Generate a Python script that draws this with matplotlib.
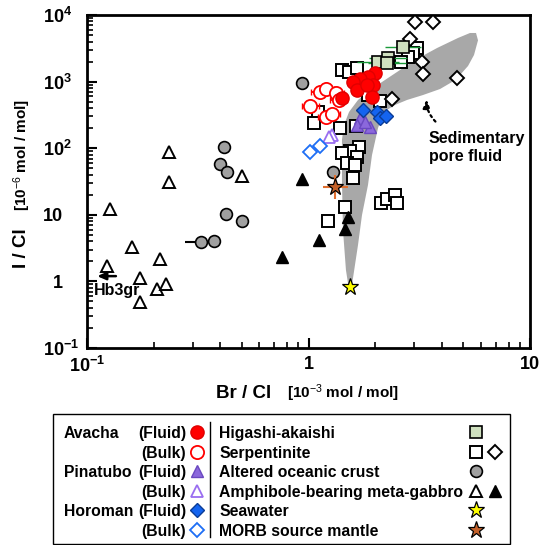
import matplotlib
matplotlib.use('Agg')
import matplotlib.pyplot as plt
from matplotlib.patches import Rectangle
from matplotlib.ticker import FixedLocator, FixedFormatter, LogLocator, NullFormatter

plt.rcParams['font.family'] = ['Liberation Sans', 'DejaVu Sans']
plt.rcParams['mathtext.fontset'] = 'custom'
plt.rcParams['mathtext.rm'] = 'Liberation Sans'
plt.rcParams['mathtext.bf'] = 'Liberation Sans:bold'
plt.rcParams['mathtext.it'] = 'Liberation Sans:italic'

# --- sedimentary pore fluid field (outline, Br/Cl vs I/Cl)
region_x = [1.524, 1.476, 1.431, 1.416, 1.416, 1.446, 1.524, 1.673, 1.895, 2.215, 2.589, 3.026,
            3.803, 4.731, 5.359, 5.705, 5.825, 5.588, 5.25, 4.83, 4.445, 3.925, 3.289, 2.785,
            2.458, 2.262, 2.147, 2.06, 1.935, 1.856, 1.744, 1.673, 1.588, 1.556]
region_y = [0.743, 1.48, 5.91, 33.3, 133, 223, 350, 530, 748, 1057, 1493, 2110,
            3190, 4520, 5370, 5370, 4170, 2510, 1715, 1257, 986, 774, 629, 530,
            446, 375, 294, 201, 79, 28, 9.93, 3.52, 1.12, 0.743]

# --- Avacha
avacha_fluid_x = [2.0, 1.86, 1.71, 1.59, 1.95, 1.66, 1.93, 1.42, 1.84]
avacha_fluid_y = [1345, 1173, 1095, 987, 890, 748, 588, 568, 890]
avacha_bulk_x = [1.13, 1.2, 1.33, 1.02, 1.37, 1.2, 1.28]
avacha_bulk_y = [698, 774, 675, 430, 530, 294, 326]
avacha_bulk_xerr = [0.1, 0.11, 0.12, 0.09, 0.12, 0.1, 0.11]

# --- Pinatubo
pinatubo_fluid_x = [1.71, 1.9, 1.66, 1.8]
pinatubo_fluid_y = [284, 208, 223, 250]
pinatubo_bulk_x = [1.28, 1.24]
pinatubo_bulk_y = [158, 145]

# --- Horoman
horoman_fluid_x = [1.76, 2.04, 2.1, 2.24]
horoman_fluid_y = [375, 350, 284, 302]
horoman_bulk_x = [1.02, 1.13]
horoman_bulk_y = [88, 108]

# --- Higashi-akaishi
higashi_x = [2.67, 2.06, 2.29, 2.26]
higashi_y = [3300, 1970, 2260, 1900]
higashi_xerr_lo = [0.45, 0.4, 0.42, 0.4]
higashi_xerr_hi = [0.55, 0.5, 0.5, 0.5]

# --- Serpentinite
serp_sq_x = [1.42, 1.52, 1.66, 3.09, 2.96, 2.81, 2.62, 2.10, 1.86, 1.10, 1.06, 1.39, 1.64,
             1.69, 1.54, 1.42, 1.66, 1.49, 1.62, 1.59, 1.46, 1.22, 2.12, 2.26, 2.46, 2.51]
serp_sq_y = [1490, 1390, 1600, 3170, 2690, 2330, 1970, 512, 630, 348, 238, 200, 215,
             104, 91, 85, 74, 60, 56, 36, 13.1, 8.1, 15, 17.3, 19.8, 15]
serp_di_x = [3.03, 3.65, 2.87, 3.25, 3.29, 4.68, 2.38]
serp_di_y = [7850, 7850, 4360, 1960, 1290, 1130, 545]

# --- Altered oceanic crust
aoc_x = [0.416, 0.40, 0.43, 0.425, 0.50, 0.327, 0.375, 0.935, 1.29]
aoc_y = [105, 57, 44, 10.2, 8.1, 3.9, 4.0, 955, 44]

# --- Amphibole-bearing meta-gabbro
gabbro_open_x = [0.127, 0.160, 0.123, 0.173, 0.173, 0.214, 0.207, 0.227, 0.234, 0.234, 0.50]
gabbro_open_y = [12.2, 3.3, 1.7, 1.12, 0.49, 2.17, 0.77, 0.91, 88, 31, 38]
gabbro_fill_x = [0.76, 0.93, 1.11, 1.46, 1.51]
gabbro_fill_y = [2.33, 34, 4.2, 6.1, 9.3]

# --- end members
seawater_x, seawater_y = [1.54], [0.83]
morb_x, morb_y = [1.32], [26]

styles = {
    'av_f': dict(marker='o', ms=9.5, mfc='#ff0000', mec='#e00000', mew=1.0),
    'av_b': dict(marker='o', ms=9.5, mfc='white', mec='#ff0000', mew=1.3),
    'pi_f': dict(marker='^', ms=9, mfc='#8b68dc', mec='#6a48c0', mew=1.0),
    'pi_b': dict(marker='^', ms=9, mfc='white', mec='#9a6ef0', mew=1.3),
    'ho_f': dict(marker='D', ms=7.5, mfc='#1464f0', mec='#0a3c96', mew=1.0),
    'ho_b': dict(marker='D', ms=7.5, mfc='white', mec='#1e6ef5', mew=1.3),
    'hi': dict(marker='s', ms=8.5, mfc='#cfe0bf', mec='black', mew=1.2),
    'sq': dict(marker='s', ms=8.5, mfc='white', mec='black', mew=1.4),
    'di': dict(marker='D', ms=7, mfc='white', mec='black', mew=1.4),
    'aoc': dict(marker='o', ms=8.5, mfc='#a0a0a0', mec='black', mew=1.2),
    'ga_o': dict(marker='^', ms=8.5, mfc='white', mec='black', mew=1.4),
    'ga_f': dict(marker='^', ms=8.5, mfc='black', mec='black', mew=1.0),
    'sw': dict(marker='*', ms=12.5, mfc='#ffff00', mec='black', mew=0.9),
    'morb': dict(marker='*', ms=12.5, mfc='#c4612a', mec='black', mew=0.9),
}

fig = plt.figure(figsize=(5.43, 5.45), dpi=100)
ax = fig.add_axes([87 / 543, 1 - 348 / 545, (530 - 87) / 543, (348 - 15) / 545])
ax.set_xscale('log')
ax.set_yscale('log')
ax.set_xlim(0.1, 10)
ax.set_ylim(0.1, 1e4)

ax.fill(region_x, region_y, color='#a8a8a8', lw=0, zorder=1)

ax.plot(serp_sq_x, serp_sq_y, ls='none', zorder=3, **styles['sq'])
ax.errorbar([1.22], [8.1], xerr=[[0.05], [0.05]], fmt='none', ecolor='black', elinewidth=1.2,
            capsize=2, zorder=2.9)
ax.plot(serp_di_x, serp_di_y, ls='none', zorder=3, **styles['di'])
ax.errorbar([0.327], [3.9], xerr=[[0.05], [0]], fmt='none', ecolor='black', elinewidth=1.5, zorder=2.9)
ax.plot(aoc_x, aoc_y, ls='none', zorder=3, **styles['aoc'])
ax.plot(gabbro_open_x, gabbro_open_y, ls='none', zorder=3, **styles['ga_o'])
ax.plot(gabbro_fill_x, gabbro_fill_y, ls='none', zorder=3, **styles['ga_f'])

ax.errorbar(higashi_x, higashi_y, xerr=[higashi_xerr_lo, higashi_xerr_hi], fmt='none',
            ecolor='#1a9a3a', elinewidth=1.0, zorder=3.5)
ax.plot(higashi_x, higashi_y, ls='none', zorder=4, **styles['hi'])

ax.errorbar(avacha_bulk_x, avacha_bulk_y, xerr=avacha_bulk_xerr, fmt='none', ecolor='#ff0000',
            elinewidth=1.3, capsize=2.5, zorder=4.5)
ax.plot(avacha_bulk_x, avacha_bulk_y, ls='none', zorder=5, **styles['av_b'])
ax.plot(avacha_fluid_x, avacha_fluid_y, ls='none', zorder=5, **styles['av_f'])
ax.plot(pinatubo_bulk_x, pinatubo_bulk_y, ls='none', zorder=5, **styles['pi_b'])
ax.plot(pinatubo_fluid_x, pinatubo_fluid_y, ls='none', zorder=5, **styles['pi_f'])
ax.plot(horoman_bulk_x, horoman_bulk_y, ls='none', zorder=5, **styles['ho_b'])
ax.plot(horoman_fluid_x, horoman_fluid_y, ls='none', zorder=5, **styles['ho_f'])

ax.errorbar(morb_x, morb_y, xerr=[[0.16], [0.18]], yerr=[[8.8], [13]], fmt='none',
            ecolor='#e07030', elinewidth=1.5, zorder=5.5)
ax.plot(morb_x, morb_y, ls='none', zorder=6, **styles['morb'])
ax.plot(seawater_x, seawater_y, ls='none', zorder=6, **styles['sw'])

# annotations
ax.annotate('', xy=(0.108, 1.2), xytext=(0.139, 1.2),
            arrowprops=dict(arrowstyle='-|>,head_length=0.5,head_width=0.22', color='black', lw=1.8))
ax.text(0.107, 0.72, 'Hb3gr', fontsize=11.5, fontweight='bold', ha='left', va='center')
ax.text(3.5, 104, 'Sedimentary\npore fluid', fontsize=11.5, fontweight='bold', ha='left',
        va='center', linespacing=1.25)
ax.annotate('', xy=(3.42, 600), xytext=(3.82, 235),
            arrowprops=dict(arrowstyle='-|>,head_length=0.5,head_width=0.2', color='black', lw=1.6,
                            ls=(0, (1, 1.6)), connectionstyle='arc3,rad=-0.25'))

# axes styling
for s in ax.spines.values():
    s.set_linewidth(2)
ax.tick_params(which='both', direction='in', top=False, right=False)
ax.tick_params(which='major', length=7, width=1.5, labelsize=13, pad=6)
ax.tick_params(which='minor', length=4, width=1.2)
ax.tick_params(axis='y', which='major', pad=32)
ax.xaxis.set_major_locator(FixedLocator([0.1, 1, 10]))
ax.xaxis.set_major_formatter(FixedFormatter([r'$\mathbf{10^{-1}}$', '1', '10']))
ax.yaxis.set_major_locator(FixedLocator([0.1, 1, 10, 100, 1e3, 1e4]))
ax.yaxis.set_major_formatter(FixedFormatter([r'$\mathbf{10^{-1}}$', '  1', '10',
                                             r'$\mathbf{10^{2}}$', r'$\mathbf{10^{3}}$',
                                             r'$\mathbf{10^{4}}$']))
for a in (ax.xaxis, ax.yaxis):
    a.set_minor_locator(LogLocator(base=10, subs=range(2, 10), numticks=20))
    a.set_minor_formatter(NullFormatter())
for lab in ax.get_xticklabels() + ax.get_yticklabels():
    lab.set_fontweight('bold')
for lab in ax.get_yticklabels():
    lab.set_horizontalalignment('left')

fig.text(244 / 543, 1 - 393 / 545, 'Br / Cl', fontsize=13.5, fontweight='bold', ha='center', va='center')
fig.text(343 / 543, 1 - 393 / 545, r'[10$^{-3}$ mol / mol]', fontsize=11, fontweight='bold',
         ha='center', va='center')
fig.text(22 / 543, 1 - 248 / 545, 'I / Cl', fontsize=13.5, fontweight='bold', rotation=90,
         ha='center', va='center')
fig.text(22 / 543, 1 - 155 / 545, r'[10$^{-6}$ mol / mol]', fontsize=11, fontweight='bold',
         rotation=90, ha='center', va='center')

# legend panel (pixel coordinates)
lax = fig.add_axes([0, 0, 1, 1])
lax.set_xlim(0, 543)
lax.set_ylim(545, 0)
lax.axis('off')
lax.add_patch(Rectangle((53, 414), 457, 130, fill=False, ec='black', lw=1.0))
lax.plot([210, 210], [422, 537], color='black', lw=1.0)
rows = [432, 452, 471, 491, 510, 530]
fs = 11.3
for txt, r in [('Avacha', 0), ('Pinatubo', 2), ('Horoman', 4)]:
    lax.text(64, rows[r], txt, fontsize=fs, fontweight='bold', va='center_baseline', ha='left')
left_keys = ['av_f', 'av_b', 'pi_f', 'pi_b', 'ho_f', 'ho_b']
for i, k in enumerate(left_keys):
    lax.text(186, rows[i], '(Fluid)' if i % 2 == 0 else '(Bulk)', fontsize=fs, fontweight='bold',
             va='center_baseline', ha='right')
    lax.plot([197], [rows[i]], ls='none', clip_on=False, **styles[k])
right_labels = ['Higashi-akaishi', 'Serpentinite', 'Altered oceanic crust',
                'Amphibole-bearing meta-gabbro', 'Seawater', 'MORB source mantle']
right_keys = [['hi'], ['sq', 'di'], ['aoc'], ['ga_o', 'ga_f'], ['sw'], ['morb']]
for i, (lab, keys) in enumerate(zip(right_labels, right_keys)):
    lax.text(219, rows[i], lab, fontsize=fs, fontweight='bold', va='center_baseline', ha='left')
    for j, k in enumerate(keys):
        lax.plot([476 + 19 * j], [rows[i]], ls='none', clip_on=False, **styles[k])

fig.savefig('out.png', dpi=100)
